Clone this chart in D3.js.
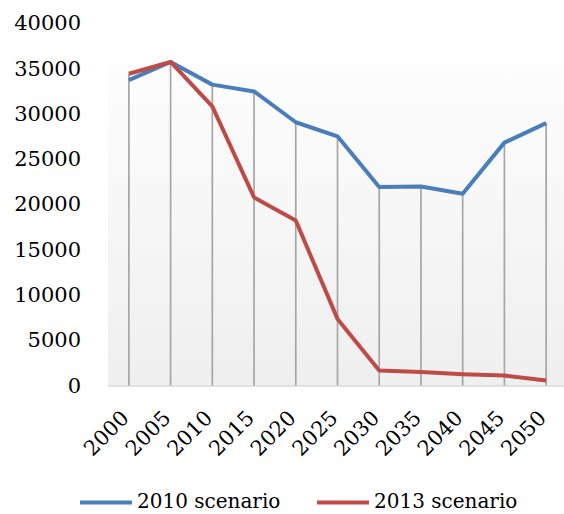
<!DOCTYPE html>
<html>
<head>
<meta charset="utf-8">
<script src="https://cdn.jsdelivr.net/npm/d3@7/dist/d3.min.js"></script>
<style>
  html, body { margin: 0; padding: 0; background: #ffffff; }
  svg { display: block; }
  text { font-family: "DejaVu Serif", serif; fill: #000; }
</style>
</head>
<body>
<svg id="chart" width="564" height="514"></svg>
<script>
// Years on the category axis
const years = ["2000", "2005", "2010", "2015", "2020", "2025", "2030", "2035", "2040", "2045", "2050"];
// Series values
const scenario2010 = [33700, 35700, 33200, 32450, 29050, 27500, 21900, 21950, 21150, 26800, 28950];
const scenario2013 = [34400, 35700, 30800, 20750, 18200, 7350, 1650, 1500, 1250, 1100, 550];
const seriesNames = ["2010 scenario", "2013 scenario"];
const seriesColors = ["#4a7ebb", "#be4b48"];
// Value axis ticks
const yTicks = [0, 5000, 10000, 15000, 20000, 25000, 30000, 35000, 40000];

const svg = d3.select("#chart");
const plot = { left: 108, right: 567, top: 23, bottom: 385.5 };

const x = d3.scalePoint().domain(years).range([plot.left, plot.right]).padding(0.5);
const y = d3.scaleLinear().domain([0, 40000]).range([plot.bottom, plot.top]);

// Plot-area background gradient
const defs = svg.append("defs");
const grad = defs.append("linearGradient").attr("id", "bg").attr("x1", 0).attr("y1", 0).attr("x2", 0).attr("y2", 1);
grad.append("stop").attr("offset", "0%").attr("stop-color", "#ffffff");
grad.append("stop").attr("offset", "100%").attr("stop-color", "#efefef");
svg.append("rect")
  .attr("x", plot.left).attr("y", plot.top)
  .attr("width", plot.right - plot.left).attr("height", plot.bottom - plot.top)
  .attr("fill", "url(#bg)");

// Horizontal axis line
svg.append("line")
  .attr("x1", plot.left).attr("x2", plot.right)
  .attr("y1", plot.bottom + 0.5).attr("y2", plot.bottom + 0.5)
  .attr("stroke", "#d9d9d9").attr("stroke-width", 1.5);

// Drop lines from the highest point of each year to the axis
svg.append("g").selectAll("line")
  .data(years)
  .join("line")
  .attr("x1", d => x(d)).attr("x2", d => x(d))
  .attr("y1", (d, i) => y(Math.max(scenario2010[i], scenario2013[i])))
  .attr("y2", plot.bottom)
  .attr("stroke", "#a6a6a6").attr("stroke-width", 1.7);

// Value axis labels
const yAxis = d3.axisLeft(y).tickValues(yTicks).tickSize(0).tickPadding(0).tickFormat(d3.format("d"));
const yg = svg.append("g").attr("transform", "translate(81,0)").call(yAxis);
yg.select(".domain").remove();
yg.selectAll("text").attr("font-family", "DejaVu Serif").attr("font-size", 21).attr("fill", "#000");

// Category axis labels, rotated
const xAxis = d3.axisBottom(x).tickSize(0).tickPadding(0);
const xg = svg.append("g").attr("transform", `translate(0,${plot.bottom})`).call(xAxis);
xg.select(".domain").remove();
xg.selectAll("text")
  .attr("font-family", "DejaVu Serif").attr("font-size", 21).attr("fill", "#000")
  .attr("text-anchor", "end")
  .attr("dy", null).attr("y", 0)
  .attr("transform", "translate(-3,30) rotate(-45)")
  .attr("dominant-baseline", "middle");

// Series lines
const line = d3.line().x((d, i) => x(years[i])).y(d => y(d));
[scenario2010, scenario2013].forEach((s, k) => {
  svg.append("path")
    .datum(s)
    .attr("d", line)
    .attr("fill", "none")
    .attr("stroke", seriesColors[k])
    .attr("stroke-width", 4)
    .attr("stroke-linejoin", "round");
});

// Legend
const legendX = [80, 317];
const leg = svg.append("g");
seriesNames.forEach((name, k) => {
  leg.append("line")
    .attr("x1", legendX[k]).attr("x2", legendX[k] + 52)
    .attr("y1", 502.5).attr("y2", 502.5)
    .attr("stroke", seriesColors[k]).attr("stroke-width", 4);
  leg.append("text")
    .attr("x", legendX[k] + 57).attr("y", 502)
    .attr("dominant-baseline", "middle")
    .attr("font-size", 20)
    .text(name);
});
</script>
</body>
</html>
